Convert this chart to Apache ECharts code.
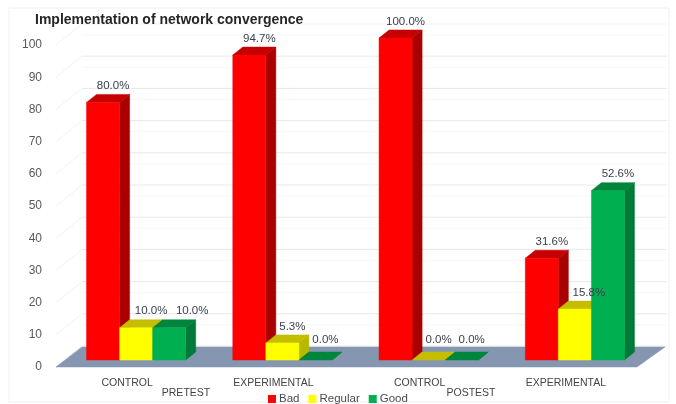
<!DOCTYPE html>
<html>
<head>
<meta charset="utf-8">
<style>html,body{margin:0;padding:0;background:#fff}#chart{width:676px;height:404px}</style>
<script src="https://cdn.jsdelivr.net/npm/echarts@6/dist/echarts.min.js"></script>
</head>
<body>
<div id="chart"></div>
<script>
const chartTitle = 'Implementation of network convergence';
const categories = ['CONTROL', 'EXPERIMENTAL', 'CONTROL', 'EXPERIMENTAL'];
const phases = ['PRETEST', 'POSTEST'];
const bad = [80.0, 94.7, 100.0, 31.6];
const regular = [10.0, 5.3, 0.0, 15.8];
const good = [10.0, 0.0, 0.0, 52.6];
const wallTicks = [0, 10, 20, 30, 40, 50, 60, 70, 80, 90, 100];

const FONT = '"Liberation Sans", Arial, sans-serif';
const GRID = { left: 63, width: 585, top: 45, height: 322 };

// Oblique projection of the box drawing
const BAR_FRAC = 33 / 146;       // bar width as a share of the category band
const BAR_LIFT = 7;              // bars stand this far behind the front floor edge
const DEPTH_X = 10, DEPTH_Y = 8; // bar depth
const WALL_DY = 21;              // rise from the front plane to the back wall

const poly = (pts, fill, z2) => ({
  type: 'polygon', shape: { points: pts }, z2: z2 || 1,
  style: { fill: fill, stroke: fill, lineWidth: 0.5 }
});

// Horizontal nudges of a few value labels that would otherwise collide
const labelNudge = { '1:0': 5, '2:0': 13, '1:3': 4 };

function barSeries(name, values, seriesIndex, front, side, top) {
  return {
    type: 'custom',
    name: name,
    data: values.map((v, i) => [i, v]),
    encode: { x: 0, y: 1 },
    clip: false,
    itemStyle: { color: front },
    renderItem(params, api) {
      const cat = api.value(0), val = api.value(1);
      const band = api.size([1, 0])[0];
      const w = band * BAR_FRAC;
      const x0 = api.coord([cat, 0])[0] + (seriesIndex - 1.5) * w;
      const x1 = x0 + w;
      const yb = api.coord([cat, 0])[1] - BAR_LIFT;
      const yt = api.coord([cat, val])[1] - BAR_LIFT;
      const nudge = labelNudge[seriesIndex + ':' + cat] || 0;
      return {
        type: 'group',
        children: [
          poly([[x1, yb], [x1 + DEPTH_X, yb - DEPTH_Y], [x1 + DEPTH_X, yt - DEPTH_Y], [x1, yt]], side, 2),
          poly([[x0, yt], [x0 + DEPTH_X, yt - DEPTH_Y], [x1 + DEPTH_X, yt - DEPTH_Y], [x1, yt]], top, 3),
          val > 0 ? poly([[x0, yb], [x1, yb], [x1, yt], [x0, yt]], front, 4) : null,
          {
            type: 'text', z2: 50,
            style: {
              x: (x0 + x1) / 2 + DEPTH_X + nudge,
              y: yt - DEPTH_Y - (val > 0 ? 8.5 : 12),
              text: val.toFixed(1) + '%',
              fill: '#3a3f4a',
              font: '11.5px ' + FONT,
              textAlign: 'center',
              textVerticalAlign: 'middle'
            }
          }
        ].filter(Boolean)
      };
    }
  };
}

// Back wall, left wall and floor, all placed from the value axis
const wallSeries = {
  type: 'custom',
  silent: true,
  legendHoverLink: false,
  data: wallTicks.map(v => [0, v]),
  encode: { x: 0, y: 1 },
  clip: false,
  z: 1,
  renderItem(params, api) {
    const v = api.value(1);
    const y = api.coord([0, v])[1];
    const left = GRID.left, right = GRID.left + GRID.width;
    const xb = left + 19;
    const kids = [];
    const main = v === 100 ? '#f3f3f3' : '#e8e8e8';
    kids.push({ type: 'line', shape: { x1: xb, y1: y - WALL_DY, x2: right + 19, y2: y - WALL_DY },
      style: { stroke: main, lineWidth: 1 } });
    kids.push({ type: 'line', shape: { x1: left - 7, y1: y, x2: xb, y2: y - WALL_DY },
      style: { stroke: '#f3f3f3', lineWidth: 1 } });
    if (v > 0) {
      kids.push({ type: 'line', shape: { x1: xb, y1: y - WALL_DY + 11, x2: right + 19, y2: y - WALL_DY + 11 },
        style: { stroke: '#f7f7f7', lineWidth: 1 } });
    }
    if (v === 0) {
      kids.push(poly([[left - 7, y], [xb, y - WALL_DY + 1], [right + 17, y - WALL_DY + 1], [right - 11, y]], '#8496b0', 5));
    }
    return { type: 'group', children: kids };
  }
};

const chart = echarts.init(document.getElementById('chart'), null, { renderer: 'canvas' });
chart.setOption({
  animation: false,
  backgroundColor: '#fff',
  title: {
    text: chartTitle, left: 35, top: 13, padding: 0,
    textStyle: { fontFamily: FONT, fontSize: 14, fontWeight: 'bold', color: '#262626' }
  },
  legend: {
    data: ['Bad', 'Regular', 'Good'], left: 268, top: 393, itemWidth: 8, itemHeight: 8, itemGap: 9,
    icon: 'rect', padding: 0,
    textStyle: { fontFamily: FONT, fontSize: 11.5, color: '#4a4a55', padding: [0, 0, 0, -2] }
  },
  grid: Object.assign({ containLabel: false }, GRID),
  xAxis: {
    type: 'category', data: categories,
    axisLine: { show: false }, axisTick: { show: false },
    axisLabel: { fontFamily: FONT, fontSize: 10.5, color: '#444', margin: 11, padding: [0, 18, 0, 0], interval: 0 }
  },
  yAxis: {
    type: 'value', min: 0, max: 100, interval: 10,
    axisLine: { show: false }, axisTick: { show: false }, splitLine: { show: false },
    axisLabel: { fontFamily: FONT, fontSize: 12, color: '#595959', margin: 21 }
  },
  series: [
    wallSeries,
    Object.assign(barSeries('Bad', bad, 0, '#ff0000', '#a90000', '#c40000'), { z: 3 }),
    Object.assign(barSeries('Regular', regular, 1, '#ffff00', '#b8b800', '#c4bd00'), { z: 3 }),
    Object.assign(barSeries('Good', good, 2, '#00b050', '#007a38', '#00853c'), { z: 3 })
  ],
  graphic: [
    { type: 'rect', silent: true, z: -1, shape: { x: 9, y: 8, width: 660, height: 394 },
      style: { fill: 'none', stroke: '#f0f0f0', lineWidth: 1 } },
    { type: 'text', x: 186, y: 393, style: { text: phases[0], font: '10.5px ' + FONT, fill: '#444', textAlign: 'center', textVerticalAlign: 'middle' } },
    { type: 'text', x: 471, y: 393, style: { text: phases[1], font: '10.5px ' + FONT, fill: '#444', textAlign: 'center', textVerticalAlign: 'middle' } }
  ]
});
</script>
</body>
</html>
